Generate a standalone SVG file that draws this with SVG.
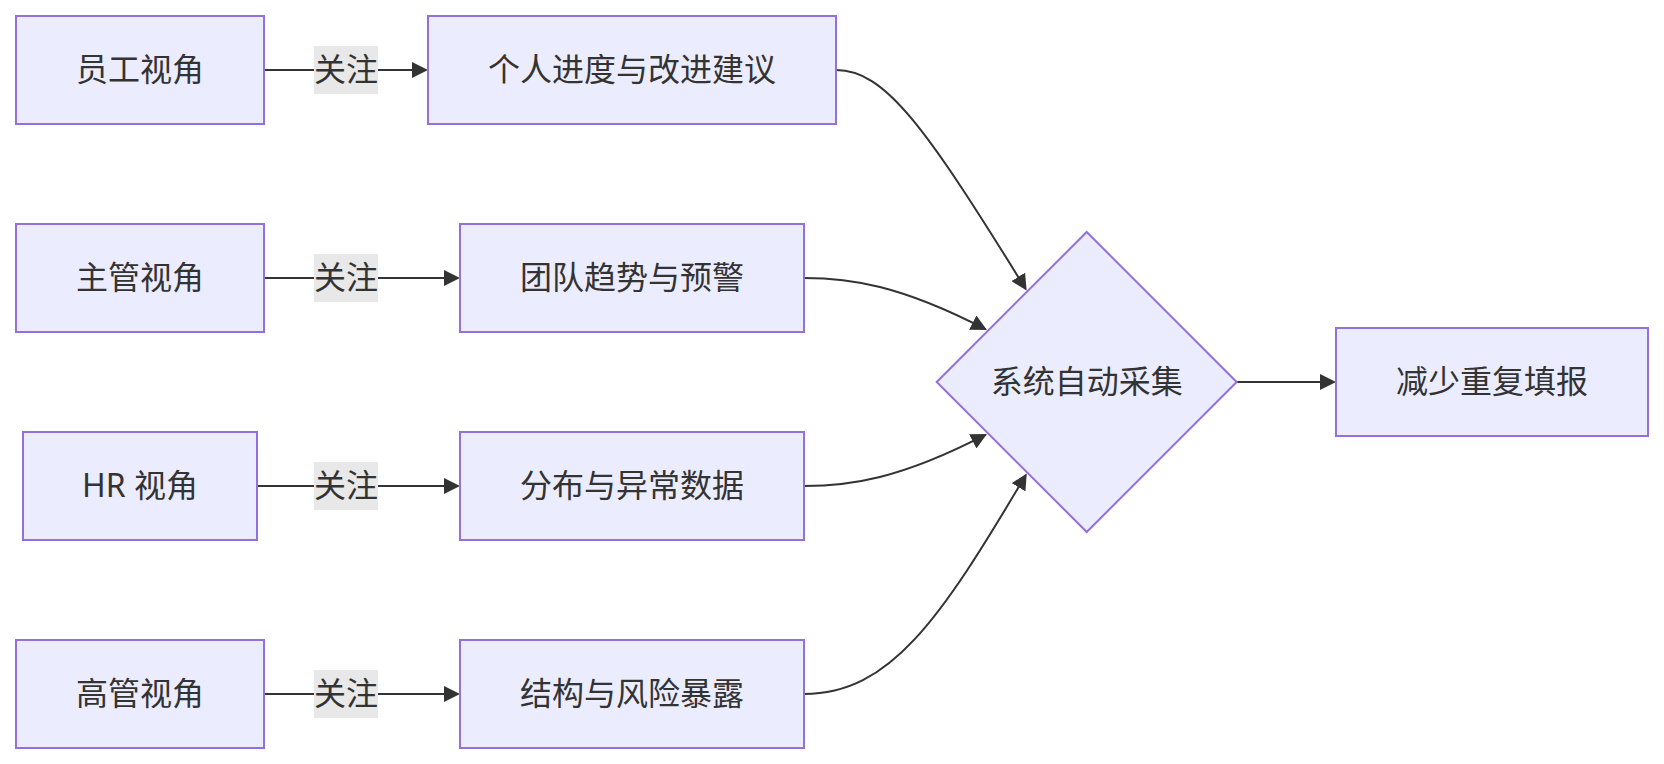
<svg xmlns="http://www.w3.org/2000/svg" width="1664" height="764" viewBox="0 0 1664 764">
<style>
  .node rect, .node polygon { fill: #ECECFF; stroke: #9370DB; stroke-width: 2; }
  .node text, .label text { font-family: "Noto Sans", "Noto Sans CJK SC", sans-serif; font-size: 32px; fill: #333333; text-anchor: middle; }
  .edge { fill: none; stroke: #333333; stroke-width: 2; marker-end: url(#arrow); }
  .label rect { fill: #E8E8E8; }
</style>
<defs>
  <marker id="arrow" viewBox="0 0 10 10" refX="8.75" refY="5" markerUnits="userSpaceOnUse" markerWidth="16" markerHeight="16" orient="auto">
    <path d="M0,0 L10,5 L0,10 z" fill="#333333"/>
  </marker>
</defs>
<rect width="1664" height="764" fill="#ffffff"/>
<g id="connectors">
  <path class="edge" d="M264,70 L426,70"/>
  <path class="edge" d="M264,278 L458,278"/>
  <path class="edge" d="M257,486 L458,486"/>
  <path class="edge" d="M264,694 L458,694"/>
  <path class="edge" d="M836,70 C885,70 925,126 1025.6,288.8"/>
  <path class="edge" d="M804,278 C850,278 900,285 985.2,329.1"/>
  <path class="edge" d="M804,486 C850,486 900,479 985.2,434.9"/>
  <path class="edge" d="M804,694 C890,694 940,620 1025.7,475.2"/>
  <path class="edge" d="M1236.7,382 L1334,382"/>
</g>
<g id="edge-labels">
  <g class="label" id="label1"><rect x="314" y="46" width="64" height="48"/><text x="346" y="81">关注</text></g>
  <g class="label" id="label2"><rect x="314" y="254" width="64" height="48"/><text x="346" y="289">关注</text></g>
  <g class="label" id="label3"><rect x="314" y="462" width="64" height="48"/><text x="346" y="497">关注</text></g>
  <g class="label" id="label4"><rect x="314" y="670" width="64" height="48"/><text x="346" y="705">关注</text></g>
</g>
<g class="node" id="employee"><rect x="16" y="16" width="248" height="108"/><text x="140" y="81">员工视角</text></g>
<g class="node" id="personal"><rect x="428" y="16" width="408" height="108"/><text x="632" y="81">个人进度与改进建议</text></g>
<g class="node" id="manager"><rect x="16" y="224" width="248" height="108"/><text x="140" y="289">主管视角</text></g>
<g class="node" id="team"><rect x="460" y="224" width="344" height="108"/><text x="632" y="289">团队趋势与预警</text></g>
<g class="node" id="hr"><rect x="23" y="432" width="234" height="108"/><text x="140" y="497">HR 视角</text></g>
<g class="node" id="distribution"><rect x="460" y="432" width="344" height="108"/><text x="632" y="497">分布与异常数据</text></g>
<g class="node" id="executive"><rect x="16" y="640" width="248" height="108"/><text x="140" y="705">高管视角</text></g>
<g class="node" id="structure"><rect x="460" y="640" width="344" height="108"/><text x="632" y="705">结构与风险暴露</text></g>
<g class="node" id="collect"><polygon points="936.7,382 1086.7,232 1236.7,382 1086.7,532"/><text x="1086.7" y="393">系统自动采集</text></g>
<g class="node" id="reduce"><rect x="1336" y="328" width="312" height="108"/><text x="1492" y="393">减少重复填报</text></g>
</svg>
